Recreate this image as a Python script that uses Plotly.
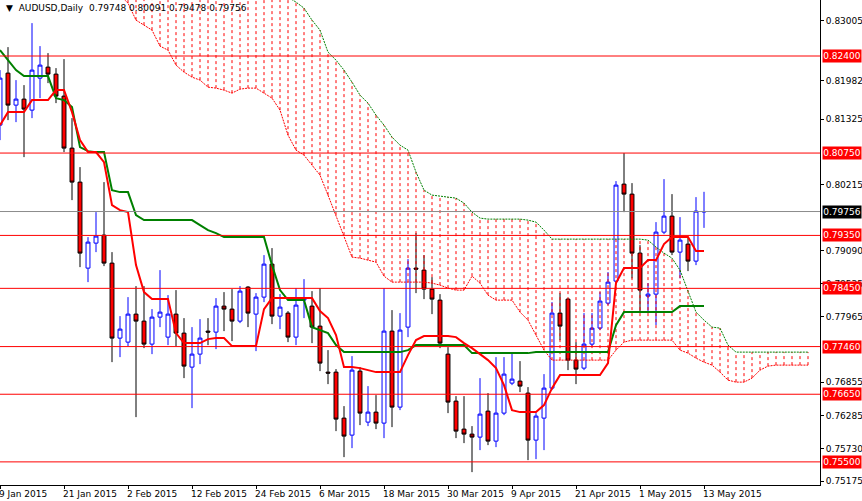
import plotly.graph_objects as go

# ---------------- data ----------------
date_ticks = [0, 8, 16, 24, 32, 40, 48, 56, 64, 72, 80, 88]
date_labels = ["9 Jan 2015", "21 Jan 2015", "2 Feb 2015", "12 Feb 2015", "24 Feb 2015", "6 Mar 2015",
               "18 Mar 2015", "30 Mar 2015", "9 Apr 2015", "21 Apr 2015", "1 May 2015", "13 May 2015"]

open_ = [.81225, .82109, .81565, .81667, .8148, .82024, .82211, .82092, .81718, .80834,
         .80256, .78794, .79219, .79355, .78879, .77604, .77536, .78012, .77893, .77502,
         .77961, .77621, .78012, .77689, .77111, .77332, .77723, .77706, .78148, .78097,
         .77893, .78471, .78012, .78301, .78862, .77978, .78029, .77621, .7825, .78148,
         .77808, .77026, .77026, .76244, .75955, .77043, .76176, .76346, .76159, .77723,
         .76431, .77791, .78794, .7876, .78437, .7825, .77332, .76533, .76057, .75972,
         .75921, .76363, .75853, .76329, .76839, .76873, .76669, .7587, .76244, .76754,
         .78029, .78267, .7723, .77094, .77502, .77774, .78199, .78573, .80222, .80052,
         .79049, .78318, .78352, .79406, .79678, .79066, .79202, .78913, .79748]
high = [.8216, .82551, .8199, .81905, .82959, .82568, .82449, .82194, .82347, .81344,
        .80511, .79321, .79746, .80256, .79066, .77978, .78301, .78488, .78488, .78097,
        .7876, .78335, .7842, .77944, .77791, .77927, .77944, .78284, .78386, .78437,
        .78488, .78488, .78369, .79015, .79134, .78352, .78063, .78454, .78607, .78403,
        .78454, .774, .77077, .76448, .77298, .77111, .76788, .76635, .78454, .7808,
        .78029, .78947, .79389, .79015, .78641, .78352, .77451, .76618, .76618, .76108,
        .76924, .76669, .77281, .77281, .77366, .77213, .76771, .76329, .76992, .78216,
        .78369, .78284, .77536, .78029, .78029, .78386, .78726, .80273, .80749, .80239,
        .79185, .78539, .79576, .80307, .80052, .79661, .79321, .80001, .80091]
low = [.8097, .8131, .81276, .80681, .81344, .81684, .81939, .81599, .80766, .7995,
       .78811, .78556, .79066, .78828, .77196, .77281, .77468, .76261, .77434, .77332,
       .77791, .77485, .77468, .76924, .76414, .77162, .77485, .77417, .77723, .77553,
       .77859, .77791, .77383, .78216, .77842, .77757, .77536, .77485, .77944, .77519,
       .77043, .76822, .76023, .75581, .75734, .76125, .76108, .76057, .75904, .76091,
       .7638, .77621, .78369, .78267, .78012, .77434, .76329, .75904, .75819, .75326,
       .757, .75785, .75751, .76295, .76805, .76686, .7553, .75547, .757, .7672,
       .7757, .7706, .76822, .7706, .77468, .7774, .78165, .78539, .79746, .7862,
       .78029, .78029, .77825, .79372, .79015, .7862, .78743, .78845, .79478]
close = [.82024, .81565, .81667, .81497, .8216, .82245, .82092, .81718, .80834, .80256,
         .79049, .79236, .79338, .78879, .77604, .77757, .78012, .77893, .77502, .77961,
         .78046, .78012, .77689, .77128, .77332, .77604, .77706, .78148, .78097, .77893,
         .78403, .78029, .78301, .78862, .77978, .78131, .77621, .78165, .78284, .77791,
         .77179, .77009, .76227, .75938, .7706, .76329, .76346, .76159, .77723, .76431,
         .7774, .78794, .78777, .78437, .78267, .77519, .76516, .76023, .75972, .75921,
         .76312, .75853, .76329, .76992, .76907, .76788, .7587, .76278, .76754, .78029,
         .77808, .7723, .77077, .77502, .77774, .78233, .78556, .80205, .80052, .79049,
         .7842, .78352, .79406, .79678, .79066, .7927, .78913, .79763, .79756]

tenkan = [.81225, .81446, .81446, .81446, .8165, .8165, .8165, .8182, .8182, .81446,
          .8097, .80766, .80766, .80596, .79865, .7978, .79746, .78845, .78386, .78267,
          .78267, .78267, .77689, .77519, .77519, .77519, .77587, .77604, .77604, .77468,
          .77468, .77468, .77468, .78097, .78284, .78284, .78284, .78284, .78284, .78284,
          .78063, .77944, .77655, .77111, .77111, .77094, .7706, .77026, .77026, .77026,
          .77026, .77315, .7757, .77638, .77638, .77638, .77638, .77621, .77519, .77434,
          .77332, .7723, .77094, .76805, .7638, .76346, .76346, .76346, .76465, .76754,
          .76975, .76975, .76975, .76975, .76975, .76975, .77179, .78539, .78794, .78794,
          .78794, .7893, .7893, .79202, .79321, .79321, .79321, .79083, .79083]
kijun = [.8250, .8233, .8216, .82058, .82058, .82058, .82058, .81684, .8165, .81531,
         .80851, .80783, .80766, .80766, .8012, .80086, .80086, .79695, .7961, .7961,
         .7961, .7961, .7961, .7961, .7961, .79525, .7944, .79389, .79321, .79321,
         .79321, .79321, .79321, .79321, .78845, .7842, .7825, .7825, .7825, .77791,
         .7774, .77689, .77485, .77366, .77366, .77366, .77366, .77366, .77366, .77366,
         .77366, .774, .77485, .77485, .77485, .77485, .77485, .77485, .77485, .77349,
         .77349, .77349, .77349, .77349, .77349, .77349, .77349, .77366, .77366, .77366,
         .77366, .77366, .77366, .77366, .77366, .77366, .77366, .77825, .78046, .78046,
         .78046, .78046, .78046, .78046, .78046, .78148, .78148, .78148, .78148]

cloud_start = 15
span_a = [.83435, .83299, .8301, .82925, .8284, .82568, .825, .82245, .82126, .82041,
          .8199, .81871, .81854, .8182, .81769, .81837, .81854, .81854, .81769, .81684,
          .8148, .81055, .808, .80715, .80545, .80375, .80035, .79695, .79355, .78981,
          .78964, .7893, .78896, .78658, .78556, .78556, .78556, .78556, .78556, .78539,
          .78505, .78454, .7842, .7842, .78658, .78539, .78335, .7825, .7825, .7825,
          .78046, .7791, .77655, .774, .7723, .7723, .7723, .7723, .7723, .7723,
          .7723, .7723, .774, .77536, .7757, .7757, .7757, .7757, .7757, .7757,
          .774, .77349, .77264, .77196, .77145, .77026, .7689, .76856, .76856, .76924,
          .7706, .77128, .77145, .77145, .77145, .77145, .77145]
span_b = [.842, .842, .842, .842, .842, .842, .842, .842, .842, .842,
          .842, .842, .842, .842, .842, .842, .842, .842, .8386, .8369,
          .8352, .83401, .83316, .83214, .8301, .8284, .82466, .8233, .8216, .81956,
          .81735, .81599, .81395, .81225, .81021, .80885, .808, .80426, .8012, .80035,
          .80018, .80001, .79984, .79899, .79746, .79644, .79627, .79627, .79627, .79627,
          .79627, .7961, .79576, .7944, .79287, .79287, .79287, .79287, .79287, .79287,
          .79287, .79287, .79287, .79287, .79287, .79287, .7927, .79151, .79049, .78964,
          .7876, .7842, .78046, .7791, .77791, .77774, .77485, .77366, .77366, .77366,
          .77366, .77366, .77366, .77366, .77366, .77366, .77366]

levels = [0.824, 0.8075, 0.7935, 0.7845, 0.7746, 0.7665, 0.755]
level_labels = ["0.82400", "0.80750", "0.79350", "0.78450", "0.77460", "0.76650", "0.75500"]
last_price = 0.79756
y_ticks = [0.83005, 0.81982, 0.81325, 0.80215, 0.79090, 0.78535, 0.77965, 0.76855, 0.76285, 0.75730, 0.75175]
y_tick_labels = ["0.83005", "0.81982", "0.81325", "0.80215", "0.79090", "0.78535", "0.77965",
                 "0.76855", "0.76285", "0.75730", "0.75175"]
header = "▼  AUDUSD,Daily  0.79748 0.80091 0.79478 0.79756"

# ---------------- figure ----------------
idx = list(range(len(open_)))
cloud_x = list(range(cloud_start, cloud_start + len(span_a)))

hx, hy = [], []
for i, a, b in zip(cloud_x, span_a, span_b):
    hx += [i, i, None]
    hy += [a, b, None]

fig = go.Figure()
fig.add_trace(go.Scatter(x=hx, y=hy, mode="lines", line=dict(color="#ff0000", width=1, dash="3px,3px"),
                         hoverinfo="skip", showlegend=False))
fig.add_trace(go.Scatter(x=cloud_x, y=span_a, mode="lines", line=dict(color="#ff0000", width=1, dash="2px,1px"),
                         showlegend=False))
fig.add_trace(go.Scatter(x=cloud_x, y=span_b, mode="lines", line=dict(color="#008000", width=1, dash="2px,1px"),
                         showlegend=False))

for lv in levels:
    fig.add_shape(type="line", xref="paper", x0=0, x1=1, y0=lv, y1=lv, line=dict(color="#ff0000", width=1))
fig.add_shape(type="line", xref="paper", x0=0, x1=1, y0=last_price, y1=last_price, line=dict(color="#8c8c8c", width=1))

fig.add_trace(go.Candlestick(x=idx, open=open_, high=high, low=low, close=close,
                             increasing=dict(line=dict(color="#0000ff", width=1), fillcolor="#ffffff"),
                             decreasing=dict(line=dict(color="#000000", width=1), fillcolor="#ff0000"),
                             whiskerwidth=0, showlegend=False))
fig.add_trace(go.Scatter(x=idx, y=kijun, mode="lines", line=dict(color="#008000", width=2), showlegend=False))
fig.add_trace(go.Scatter(x=idx, y=tenkan, mode="lines", line=dict(color="#ff0000", width=2), showlegend=False))

fnt = dict(family="DejaVu Sans", size=9, color="#000000")
for lv, lab in zip(levels, level_labels):
    fig.add_annotation(x=1, xref="paper", y=lv, yref="y", text=lab, showarrow=False, xanchor="left",
                       xshift=2, bgcolor="#ff0000", font=dict(family="DejaVu Sans", size=9, color="#ffffff"),
                       width=38, height=12, borderpad=0)
fig.add_annotation(x=1, xref="paper", y=last_price, yref="y", text="0.79756", showarrow=False, xanchor="left",
                   xshift=2, bgcolor="#000000", font=dict(family="DejaVu Sans", size=9, color="#ffffff"),
                   width=38, height=12, borderpad=0)
for t, lab in zip(date_ticks, date_labels):
    fig.add_annotation(x=t, xref="x", y=0, yref="paper", yshift=-2, text=lab, showarrow=False,
                       xanchor="left", yanchor="top", xshift=-3, font=fnt)
fig.add_annotation(x=0, xref="paper", y=1, yref="paper", text=header, showarrow=False, xanchor="left",
                   yanchor="top", xshift=4, yshift=-1, font=fnt)

fig.update_layout(
    width=862, height=501, margin=dict(l=0, r=42, t=0, b=16),
    paper_bgcolor="#ffffff", plot_bgcolor="#ffffff",
    xaxis=dict(range=[0, 102.5], tickvals=date_ticks, showticklabels=False, ticks="outside", ticklen=3,
               tickcolor="#000", showgrid=False, zeroline=False, showline=True, linecolor="#000",
               rangeslider=dict(visible=False), fixedrange=True),
    yaxis=dict(range=[0.75107, 0.83352], side="right", tickvals=y_ticks, ticktext=y_tick_labels,
               ticks="outside", ticklen=3, tickcolor="#000", tickfont=fnt, showgrid=False, zeroline=False,
               showline=True, linecolor="#000", mirror=False),
    font=fnt, hovermode=False,
)
fig.write_html("out.html", config={"displayModeBar": False},
               post_script="document.body.style.margin='0';document.body.style.overflow='hidden';")
